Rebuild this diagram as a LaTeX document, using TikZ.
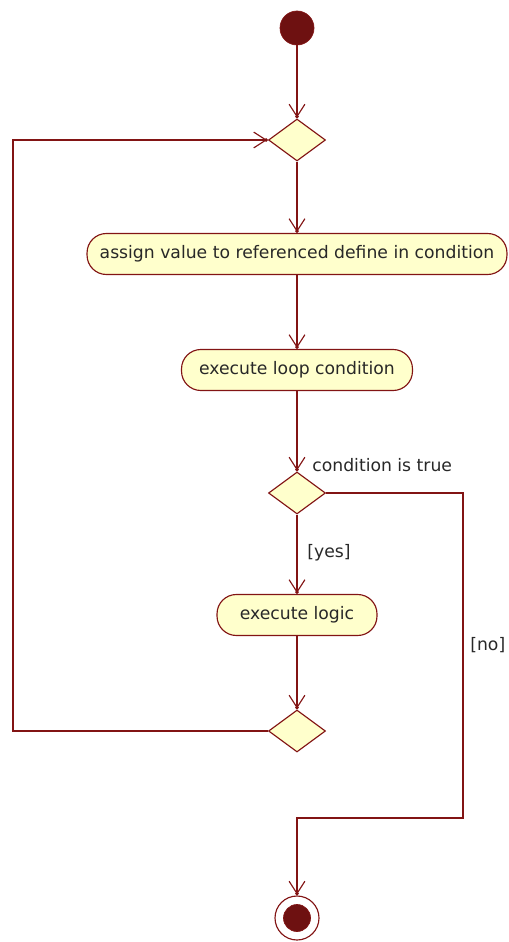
\documentclass[tikz,border=0pt]{standalone}
\usepackage{fontspec}
\setmainfont{DejaVu Sans}
\usetikzlibrary{positioning}
\usetikzlibrary{shapes.geometric}
\usetikzlibrary{arrows.meta}
\definecolor{umlred}{RGB}{130,20,20}
\definecolor{umlfill}{RGB}{255,255,204}
\definecolor{umltext}{RGB}{40,40,40}

\tikzset{
  action/.style={draw=umlred, fill=umlfill, line width=0.65pt, rounded corners=11pt,
    minimum height=0.82cm, inner sep=0pt, text=umltext, font=\fontsize{9.8}{11}\selectfont},
  decision/.style={diamond, draw=umlred, fill=umlfill, line width=0.65pt,
    minimum width=1.14cm, minimum height=0.84cm, inner sep=0pt},
  initial/.style={circle, draw=umlred, fill=umlred!85!black, minimum size=0.68cm, inner sep=0pt},
  flow/.style={draw=umlred, line width=0.65pt,
    -{Straight Barb[length=7pt,width=9pt,sep=-1.5pt]Circle[length=2pt]}},
  guard/.style={text=umltext, font=\fontsize{9.8}{11}\selectfont, inner sep=0pt}
}

\begin{document}
\begin{tikzpicture}[x=0.02cm, y=-0.02cm]

\useasboundingbox (0,0) rectangle (509,942);

% nodes
\node[initial] (start) at (297,28) {};
\node[decision] (loop) at (297,140) {};
\node[action, minimum width=8.4cm] (assign) at (297,254) {assign value to referenced define in condition};
\node[action, minimum width=4.62cm] (cond) at (297,370) {execute loop condition};
\node[decision] (test) at (297,493) {};
\node[action, minimum width=3.2cm] (logic) at (297,615) {execute logic};
\node[decision] (merge) at (297,731) {};
\node[circle, draw=umlred, fill=white, line width=0.65pt, minimum size=0.88cm] (end) at (297,918) {};
\node[initial, minimum size=0.54cm] (endcore) at (end) {};

% corners of the loop and of the exit path
\coordinate (back) at (13,731);
\coordinate (exit) at (463,818);

% labels
\node[guard, anchor=base west] (truelbl) at (312,471) {condition is true};
\node[guard, anchor=west] (yeslbl) at (307,553) {[yes]};
\node[guard, anchor=west] (nolbl) at (470,645) {[no]};

% connectors
\draw[flow] (start) -- (loop);
\draw[flow] (loop) -- (assign);
\draw[flow] (assign) -- (cond);
\draw[flow] (cond) -- (test);
\draw[flow] (test) -- (logic);
\draw[flow] (logic) -- (merge);
\draw[flow] (merge.west) -- (back) |- (loop.west);
\draw[flow] (test.east) -| (exit) -| (end.north);

\end{tikzpicture}
\end{document}
